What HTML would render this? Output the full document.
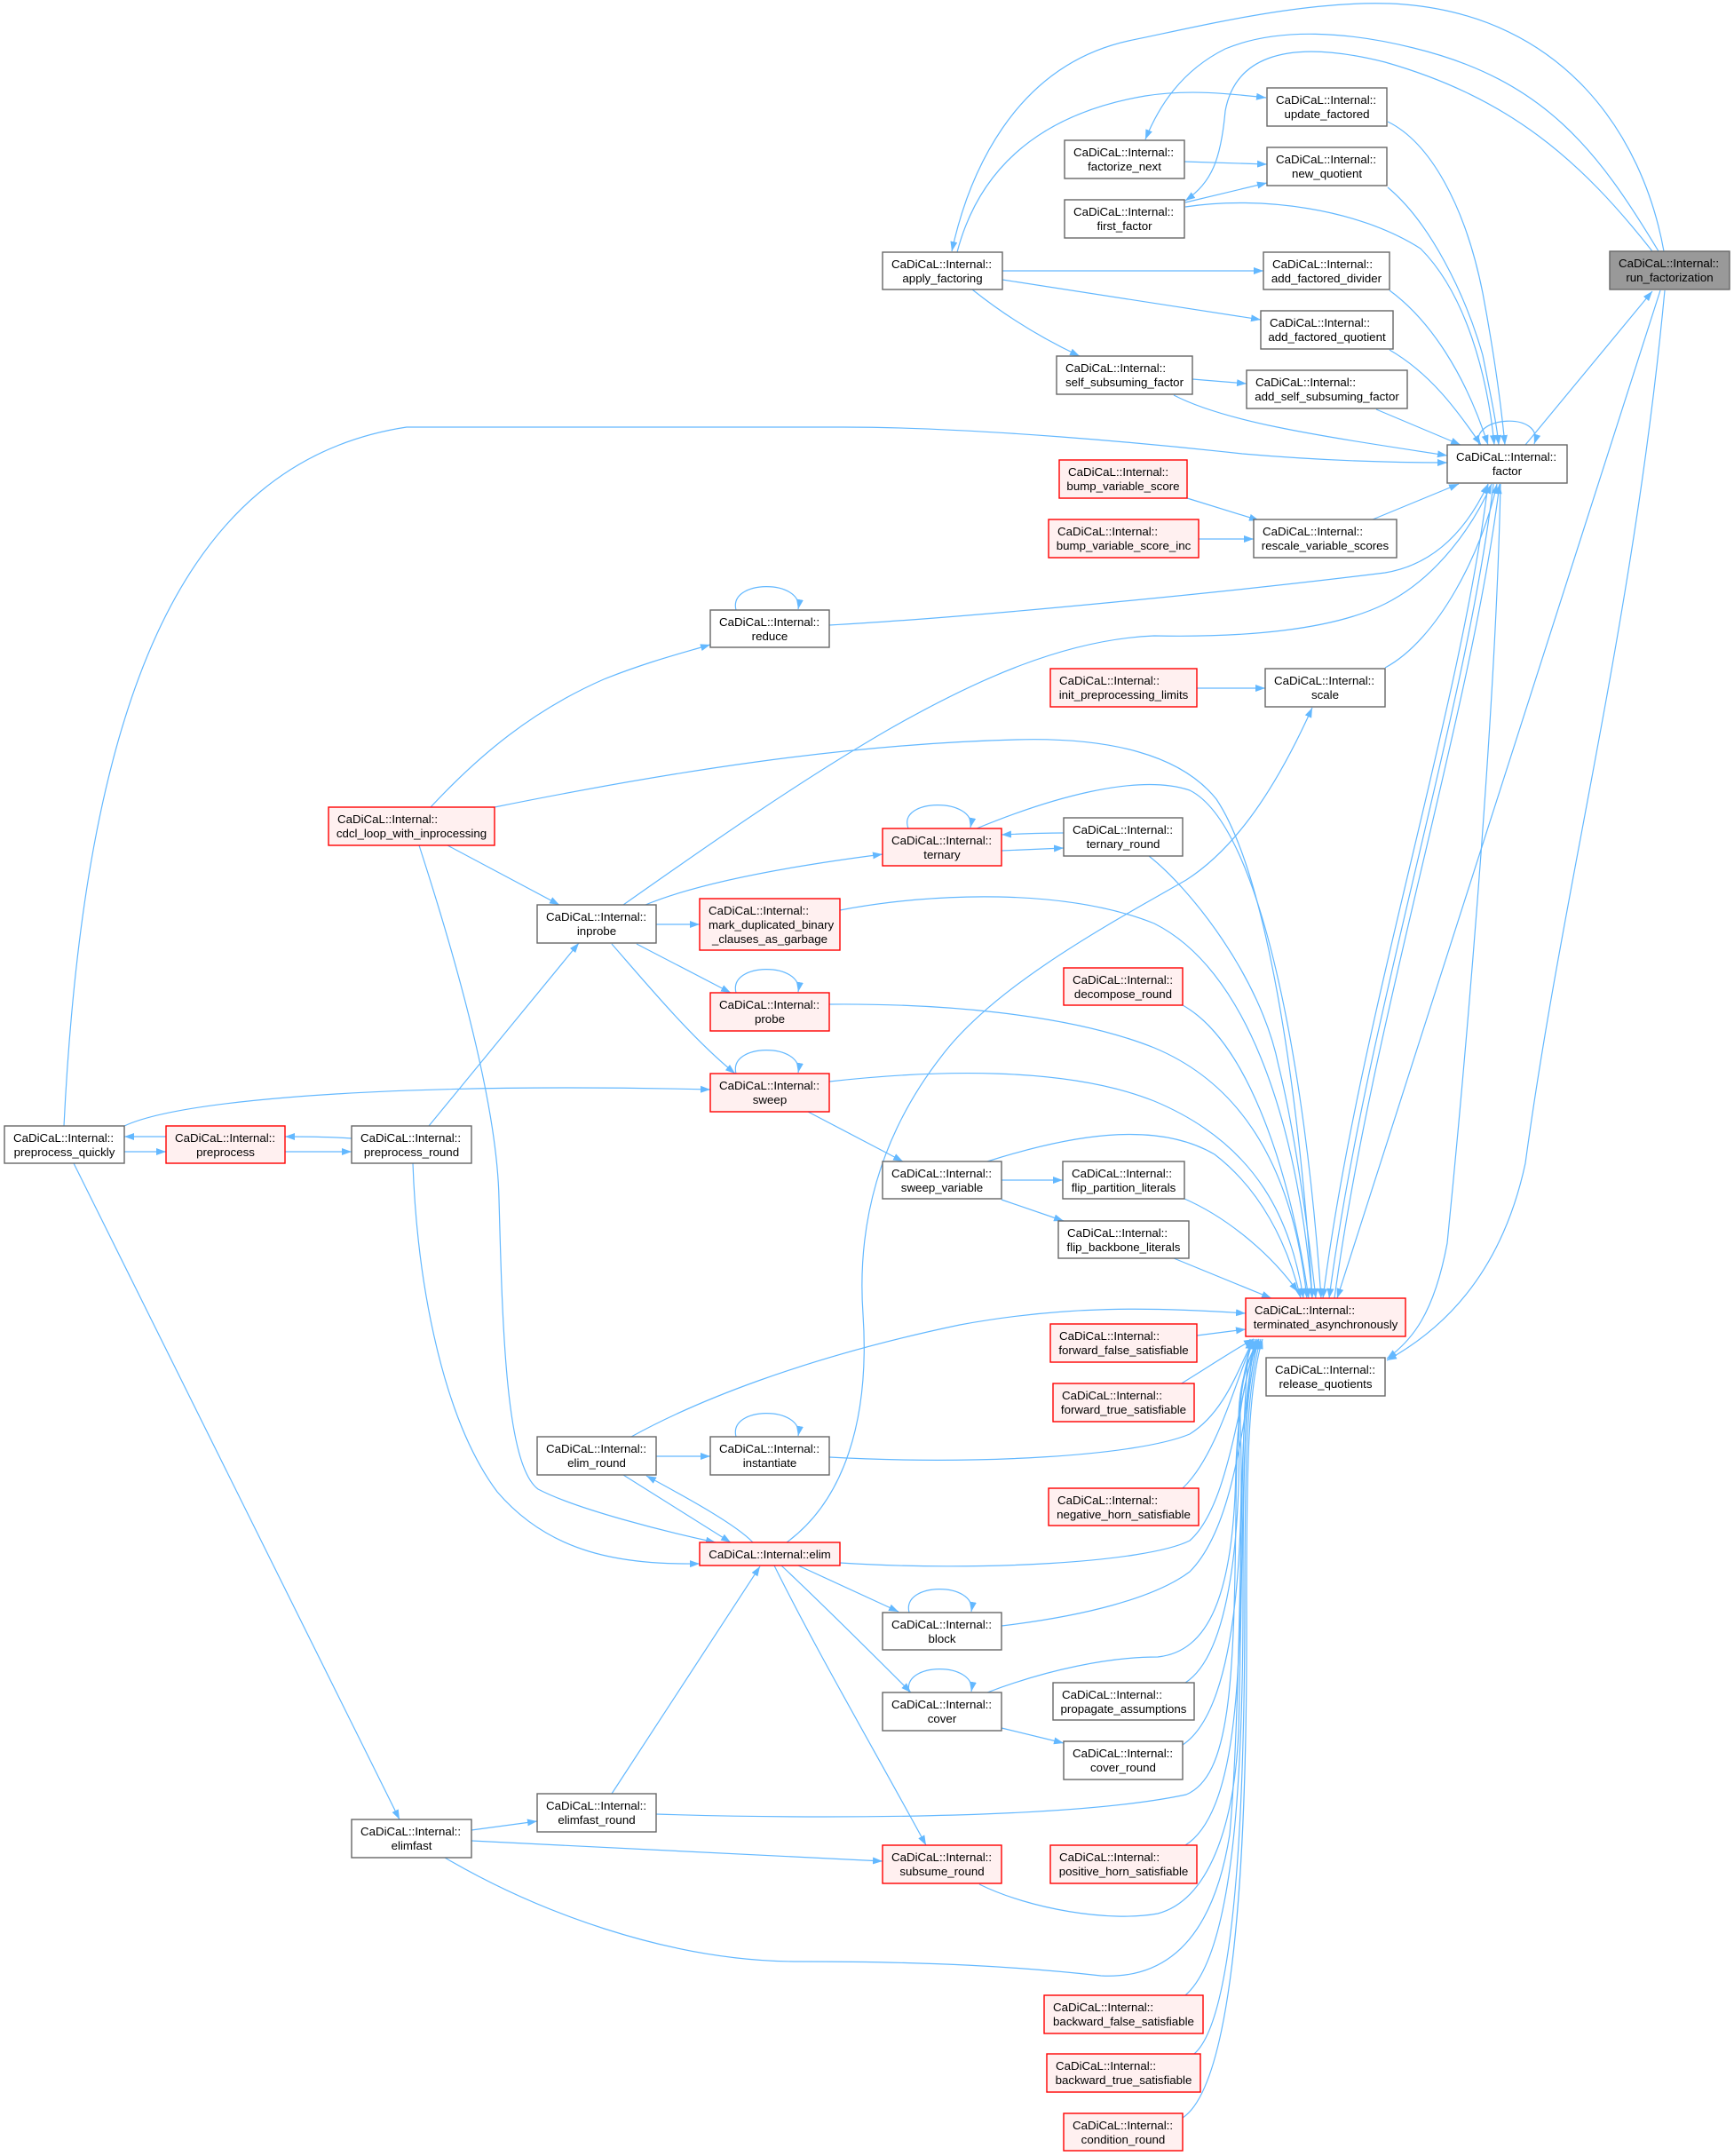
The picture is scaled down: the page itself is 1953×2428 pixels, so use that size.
<!DOCTYPE html>
<html><head><meta charset="utf-8"><style>
html,body{margin:0;padding:0;background:#fff;}
svg{display:block;}
text{font-family:"Liberation Sans",Arial,sans-serif;font-size:13.3px;fill:#000;}
.n{fill:#fff;stroke:#666;stroke-width:1.4;}
.r{fill:#fff0f0;stroke:#f00;stroke-width:1.4;}
.g{fill:#999;stroke:#666;stroke-width:1.4;}
.e{fill:none;stroke:#63b8ff;stroke-width:1.2;}
</style></head><body>
<svg width="1953" height="2428" viewBox="0 0 1953 2428" xmlns="http://www.w3.org/2000/svg">
<defs><marker id="a" viewBox="0 0 11 8" refX="11" refY="4" markerWidth="11" markerHeight="8" markerUnits="userSpaceOnUse" orient="auto"><path d="M0,0L11,4L0,8z" fill="#63b8ff"/></marker></defs>
<g class="e" marker-end="url(#a)">
<path d="M1874,283 C1850,150 1760,20 1582,5 C1480,-3 1350,30 1271,46 C1140,75 1090,200 1072,283"/>
<path d="M1078,284 C1100,200 1160,130 1290,108 C1340,100 1390,106 1426,110"/>
<path d="M1868,283 C1800,170 1740,90 1592,54 C1520,36 1440,30 1380,55 C1330,80 1305,120 1290,157"/>
<path d="M1861,283 C1780,180 1700,110 1560,70 C1440,40 1390,70 1380,125 C1375,180 1365,205 1335,226"/>
<path d="M1718,501 L1861,328"/>
<path d="M1334,182 L1427,185"/>
<path d="M1335,228 L1427,206"/>
<path d="M1129,305 L1423,305"/>
<path d="M1129,315 L1420,360"/>
<path d="M1095,326 Q1150,370 1216,401"/>
<path d="M1343,427 L1404,432"/>
<path d="M1563,137 C1610,160 1650,230 1670,330 C1685,410 1692,470 1695,501"/>
<path d="M1563,211 C1610,250 1650,330 1670,400 C1680,450 1686,480 1688,501"/>
<path d="M1335,233 C1420,220 1530,235 1600,280 C1650,330 1675,420 1683,501"/>
<path d="M1565,327 C1610,360 1650,420 1676,501"/>
<path d="M1565,394 C1610,420 1640,460 1668,501"/>
<path d="M1550,461 L1645,501"/>
<path d="M1322,445 C1380,475 1480,490 1630,513"/>
<path d="M72,1268 C95,800 200,520 458,481 L950,481 C1100,481 1300,500 1399,511 C1480,518 1560,521 1630,521"/>
<path d="M1666,501 C1655,468 1740,463 1728,500"/>
<path d="M1337,561 L1418,586"/>
<path d="M1350,607 L1412,607"/>
<path d="M1546,585 L1643,545"/>
<path d="M934,704 C1100,695 1400,665 1560,645 C1620,635 1655,590 1676,545"/>
<path d="M702,1019 C800,950 900,880 1000,822 C1100,765 1200,720 1300,716 C1400,718 1500,710 1560,680 C1620,650 1660,590 1680,545"/>
<path d="M1560,752 C1620,720 1670,620 1686,545"/>
<path d="M1348,775 L1425,775"/>
<path d="M886,1737 C950,1690 980,1600 972,1480 C965,1380 990,1280 1060,1190 C1120,1110 1250,1040 1336,991 C1400,950 1445,870 1478,797"/>
<path d="M485,909 C540,850 600,800 680,765 C730,745 770,735 800,726"/>
<path d="M557,909 C750,870 950,838 1144,833 C1250,830 1330,850 1370,900 C1430,990 1465,1250 1478,1462"/>
<path d="M504,952 L630,1019"/>
<path d="M472,952 C520,1100 560,1250 562,1350 C566,1500 570,1650 606,1677 C650,1700 750,1725 806,1737"/>
<path d="M465,1310 C470,1450 500,1600 560,1680 C620,1750 700,1762 788,1761"/>
<path d="M483,1268 L652,1062"/>
<path d="M396,1282 C370,1280 345,1280 321,1280"/>
<path d="M321,1297 L396,1297"/>
<path d="M187,1280 L140,1280"/>
<path d="M140,1297 L187,1297"/>
<path d="M140,1268 C200,1240 400,1225 640,1225 C700,1225 760,1226 800,1227"/>
<path d="M83,1310 L450,2049"/>
<path d="M727,1019 C780,997 870,978 994,962"/>
<path d="M739,1041 L788,1041"/>
<path d="M717,1063 L823,1118"/>
<path d="M689,1063 C730,1110 780,1170 828,1209"/>
<path d="M1023,933 C1010,898 1100,898 1093,932"/>
<path d="M1198,938 C1170,938 1150,939 1128,940"/>
<path d="M1128,958 L1198,955"/>
<path d="M1100,933 C1180,900 1280,870 1340,890 C1420,930 1470,1200 1488,1462"/>
<path d="M1294,964 C1340,1000 1420,1100 1440,1200 C1460,1280 1475,1400 1482,1462"/>
<path d="M946,1025 C1050,1005 1200,1000 1300,1040 C1400,1090 1460,1250 1478,1462"/>
<path d="M1332,1132 C1400,1170 1450,1300 1474,1462"/>
<path d="M934,1131 C1050,1130 1200,1140 1300,1180 C1420,1230 1460,1350 1472,1462"/>
<path d="M829,1118 C820,1083 905,1083 899,1117"/>
<path d="M829,1209 C820,1174 905,1174 899,1208"/>
<path d="M829,687 C820,652 905,652 899,686"/>
<path d="M934,1218 C1050,1205 1200,1200 1300,1240 C1420,1290 1455,1380 1468,1462"/>
<path d="M910,1252 L1017,1308"/>
<path d="M1112,1308 C1200,1280 1300,1260 1368,1300 C1420,1340 1450,1400 1465,1462"/>
<path d="M1128,1329 L1197,1329"/>
<path d="M1128,1351 L1198,1375"/>
<path d="M1334,1350 C1380,1370 1430,1410 1462,1455"/>
<path d="M1322,1417 L1432,1462"/>
<path d="M711,1618 C780,1580 900,1530 1081,1492 C1200,1470 1300,1472 1403,1479"/>
<path d="M1348,1504 L1403,1497"/>
<path d="M1329,1559 C1360,1540 1390,1520 1412,1508"/>
<path d="M934,1641 C1100,1650 1280,1640 1340,1615 C1380,1590 1395,1540 1412,1508"/>
<path d="M739,1640 L800,1640"/>
<path d="M829,1618 C820,1583 905,1583 899,1617"/>
<path d="M702,1661 L823,1737"/>
<path d="M848,1737 C830,1718 780,1690 728,1662"/>
<path d="M1332,1676 C1370,1640 1390,1560 1412,1508"/>
<path d="M946,1760 C1100,1770 1290,1760 1340,1735 C1380,1700 1392,1600 1414,1508"/>
<path d="M899,1763 L1012,1815"/>
<path d="M880,1763 C930,1810 980,1860 1026,1906"/>
<path d="M872,1763 C920,1860 990,1980 1043,2078"/>
<path d="M1024,1816 C1015,1781 1100,1781 1094,1815"/>
<path d="M1128,1831 C1220,1820 1300,1800 1340,1770 C1390,1720 1400,1600 1416,1508"/>
<path d="M1024,1906 C1015,1871 1100,1871 1094,1905"/>
<path d="M1112,1906 C1180,1880 1250,1866 1304,1866 C1360,1860 1390,1800 1392,1650 C1395,1580 1405,1540 1418,1508"/>
<path d="M1128,1946 L1198,1963"/>
<path d="M1335,1895 C1390,1860 1398,1700 1395,1600 C1395,1560 1405,1530 1418,1508"/>
<path d="M1332,1965 C1400,1920 1400,1700 1397,1600 C1396,1560 1405,1530 1418,1508"/>
<path d="M689,2020 L856,1764"/>
<path d="M531,2061 L605,2051"/>
<path d="M531,2073 L994,2096"/>
<path d="M501,2092 C600,2150 750,2209 900,2209 C1050,2209 1150,2215 1240,2225 C1330,2230 1370,2160 1385,2066 C1400,1900 1395,1600 1408,1508"/>
<path d="M739,2043 C900,2048 1200,2050 1336,2021 C1385,2000 1390,1900 1392,1700 C1393,1580 1400,1540 1412,1508"/>
<path d="M1103,2122 C1160,2150 1250,2165 1304,2155 C1360,2140 1390,2060 1395,1950 C1400,1750 1398,1580 1414,1508"/>
<path d="M1335,2078 C1380,2050 1395,1950 1397,1800 C1398,1650 1400,1560 1416,1508"/>
<path d="M1335,2247 C1390,2200 1400,2000 1400,1800 C1400,1650 1402,1560 1418,1508"/>
<path d="M1345,2313 C1395,2270 1402,2000 1402,1800 C1402,1650 1404,1560 1420,1508"/>
<path d="M1332,2385 C1400,2340 1405,2000 1404,1800 C1404,1650 1406,1560 1422,1508"/>
<path d="M1676,545 C1645,800 1530,1150 1490,1462"/>
<path d="M1682,545 C1652,800 1538,1150 1497,1462"/>
<path d="M1503,1462 C1545,1150 1658,800 1689,545"/>
<path d="M1870,327 L1506,1462"/>
<path d="M1875,327 C1840,700 1760,1000 1718,1310 C1690,1440 1620,1500 1562,1532"/>
<path d="M1690,545 C1685,800 1650,1200 1630,1400 C1615,1480 1590,1510 1562,1530"/>
</g>
<g>
<rect class="g" x="1813" y="283" width="135" height="43"/><text x="1823" y="301">CaDiCaL::Internal::</text><text x="1880.5" y="317" text-anchor="middle">run_factorization</text>
<rect class="n" x="1427" y="99" width="135" height="43"/><text x="1437" y="117">CaDiCaL::Internal::</text><text x="1494.5" y="133" text-anchor="middle">update_factored</text>
<rect class="n" x="1199" y="158" width="135" height="43"/><text x="1209" y="176">CaDiCaL::Internal::</text><text x="1266.5" y="192" text-anchor="middle">factorize_next</text>
<rect class="n" x="1427" y="166" width="135" height="43"/><text x="1437" y="184">CaDiCaL::Internal::</text><text x="1494.5" y="200" text-anchor="middle">new_quotient</text>
<rect class="n" x="1199" y="225" width="135" height="43"/><text x="1209" y="243">CaDiCaL::Internal::</text><text x="1266.5" y="259" text-anchor="middle">first_factor</text>
<rect class="n" x="994" y="284" width="135" height="42"/><text x="1004" y="302">CaDiCaL::Internal::</text><text x="1061.5" y="318" text-anchor="middle">apply_factoring</text>
<rect class="n" x="1423" y="284" width="142" height="42"/><text x="1433" y="302">CaDiCaL::Internal::</text><text x="1494" y="318" text-anchor="middle">add_factored_divider</text>
<rect class="n" x="1420" y="350" width="149" height="43"/><text x="1430" y="368">CaDiCaL::Internal::</text><text x="1494.5" y="384" text-anchor="middle">add_factored_quotient</text>
<rect class="n" x="1190" y="401" width="153" height="43"/><text x="1200" y="419">CaDiCaL::Internal::</text><text x="1266.5" y="435" text-anchor="middle">self_subsuming_factor</text>
<rect class="n" x="1404" y="417" width="181" height="43"/><text x="1414" y="435">CaDiCaL::Internal::</text><text x="1494.5" y="451" text-anchor="middle">add_self_subsuming_factor</text>
<rect class="n" x="1630" y="501" width="135" height="43"/><text x="1640" y="519">CaDiCaL::Internal::</text><text x="1697.5" y="535" text-anchor="middle">factor</text>
<rect class="r" x="1193" y="518" width="144" height="43"/><text x="1203" y="536">CaDiCaL::Internal::</text><text x="1265" y="552" text-anchor="middle">bump_variable_score</text>
<rect class="r" x="1181" y="585" width="169" height="43"/><text x="1191" y="603">CaDiCaL::Internal::</text><text x="1265.5" y="619" text-anchor="middle">bump_variable_score_inc</text>
<rect class="n" x="1412" y="585" width="161" height="43"/><text x="1422" y="603">CaDiCaL::Internal::</text><text x="1492.5" y="619" text-anchor="middle">rescale_variable_scores</text>
<rect class="n" x="800" y="687" width="134" height="42"/><text x="810" y="705">CaDiCaL::Internal::</text><text x="867" y="721" text-anchor="middle">reduce</text>
<rect class="r" x="1183" y="753" width="165" height="43"/><text x="1193" y="771">CaDiCaL::Internal::</text><text x="1265.5" y="787" text-anchor="middle">init_preprocessing_limits</text>
<rect class="n" x="1425" y="753" width="135" height="43"/><text x="1435" y="771">CaDiCaL::Internal::</text><text x="1492.5" y="787" text-anchor="middle">scale</text>
<rect class="r" x="370" y="909" width="187" height="43"/><text x="380" y="927">CaDiCaL::Internal::</text><text x="463.5" y="943" text-anchor="middle">cdcl_loop_with_inprocessing</text>
<rect class="n" x="1198" y="921" width="134" height="43"/><text x="1208" y="939">CaDiCaL::Internal::</text><text x="1265" y="955" text-anchor="middle">ternary_round</text>
<rect class="r" x="994" y="933" width="134" height="42"/><text x="1004" y="951">CaDiCaL::Internal::</text><text x="1061" y="967" text-anchor="middle">ternary</text>
<rect class="r" x="788" y="1012" width="158" height="58"/><text x="798" y="1030">CaDiCaL::Internal::</text><text x="798" y="1046">mark_duplicated_binary</text><text x="867" y="1062" text-anchor="middle">_clauses_as_garbage</text>
<rect class="n" x="605" y="1019" width="134" height="43"/><text x="615" y="1037">CaDiCaL::Internal::</text><text x="672" y="1053" text-anchor="middle">inprobe</text>
<rect class="r" x="1198" y="1090" width="134" height="42"/><text x="1208" y="1108">CaDiCaL::Internal::</text><text x="1265" y="1124" text-anchor="middle">decompose_round</text>
<rect class="r" x="800" y="1118" width="134" height="43"/><text x="810" y="1136">CaDiCaL::Internal::</text><text x="867" y="1152" text-anchor="middle">probe</text>
<rect class="r" x="800" y="1209" width="134" height="43"/><text x="810" y="1227">CaDiCaL::Internal::</text><text x="867" y="1243" text-anchor="middle">sweep</text>
<rect class="n" x="5" y="1268" width="135" height="42"/><text x="15" y="1286">CaDiCaL::Internal::</text><text x="72.5" y="1302" text-anchor="middle">preprocess_quickly</text>
<rect class="r" x="187" y="1268" width="134" height="42"/><text x="197" y="1286">CaDiCaL::Internal::</text><text x="254" y="1302" text-anchor="middle">preprocess</text>
<rect class="n" x="396" y="1268" width="135" height="42"/><text x="406" y="1286">CaDiCaL::Internal::</text><text x="463.5" y="1302" text-anchor="middle">preprocess_round</text>
<rect class="n" x="994" y="1308" width="134" height="42"/><text x="1004" y="1326">CaDiCaL::Internal::</text><text x="1061" y="1342" text-anchor="middle">sweep_variable</text>
<rect class="n" x="1197" y="1308" width="137" height="42"/><text x="1207" y="1326">CaDiCaL::Internal::</text><text x="1265.5" y="1342" text-anchor="middle">flip_partition_literals</text>
<rect class="n" x="1192" y="1375" width="147" height="42"/><text x="1202" y="1393">CaDiCaL::Internal::</text><text x="1265.5" y="1409" text-anchor="middle">flip_backbone_literals</text>
<rect class="r" x="1403" y="1462" width="180" height="43"/><text x="1413" y="1480">CaDiCaL::Internal::</text><text x="1493" y="1496" text-anchor="middle">terminated_asynchronously</text>
<rect class="r" x="1183" y="1491" width="165" height="43"/><text x="1193" y="1509">CaDiCaL::Internal::</text><text x="1265.5" y="1525" text-anchor="middle">forward_false_satisfiable</text>
<rect class="n" x="1426" y="1529" width="134" height="43"/><text x="1436" y="1547">CaDiCaL::Internal::</text><text x="1493" y="1563" text-anchor="middle">release_quotients</text>
<rect class="r" x="1186" y="1558" width="159" height="43"/><text x="1196" y="1576">CaDiCaL::Internal::</text><text x="1265.5" y="1592" text-anchor="middle">forward_true_satisfiable</text>
<rect class="n" x="605" y="1618" width="134" height="43"/><text x="615" y="1636">CaDiCaL::Internal::</text><text x="672" y="1652" text-anchor="middle">elim_round</text>
<rect class="n" x="800" y="1618" width="134" height="43"/><text x="810" y="1636">CaDiCaL::Internal::</text><text x="867" y="1652" text-anchor="middle">instantiate</text>
<rect class="r" x="1181" y="1676" width="169" height="42"/><text x="1191" y="1694">CaDiCaL::Internal::</text><text x="1265.5" y="1710" text-anchor="middle">negative_horn_satisfiable</text>
<rect class="r" x="788" y="1737" width="158" height="26"/><text x="867" y="1755" text-anchor="middle">CaDiCaL::Internal::elim</text>
<rect class="n" x="994" y="1816" width="134" height="42"/><text x="1004" y="1834">CaDiCaL::Internal::</text><text x="1061" y="1850" text-anchor="middle">block</text>
<rect class="n" x="1186" y="1895" width="159" height="42"/><text x="1196" y="1913">CaDiCaL::Internal::</text><text x="1265.5" y="1929" text-anchor="middle">propagate_assumptions</text>
<rect class="n" x="994" y="1906" width="134" height="43"/><text x="1004" y="1924">CaDiCaL::Internal::</text><text x="1061" y="1940" text-anchor="middle">cover</text>
<rect class="n" x="1198" y="1961" width="134" height="43"/><text x="1208" y="1979">CaDiCaL::Internal::</text><text x="1265" y="1995" text-anchor="middle">cover_round</text>
<rect class="n" x="605" y="2020" width="134" height="43"/><text x="615" y="2038">CaDiCaL::Internal::</text><text x="672" y="2054" text-anchor="middle">elimfast_round</text>
<rect class="n" x="396" y="2049" width="135" height="43"/><text x="406" y="2067">CaDiCaL::Internal::</text><text x="463.5" y="2083" text-anchor="middle">elimfast</text>
<rect class="r" x="994" y="2078" width="134" height="43"/><text x="1004" y="2096">CaDiCaL::Internal::</text><text x="1061" y="2112" text-anchor="middle">subsume_round</text>
<rect class="r" x="1183" y="2078" width="165" height="43"/><text x="1193" y="2096">CaDiCaL::Internal::</text><text x="1265.5" y="2112" text-anchor="middle">positive_horn_satisfiable</text>
<rect class="r" x="1176" y="2247" width="179" height="43"/><text x="1186" y="2265">CaDiCaL::Internal::</text><text x="1265.5" y="2281" text-anchor="middle">backward_false_satisfiable</text>
<rect class="r" x="1179" y="2313" width="173" height="43"/><text x="1189" y="2331">CaDiCaL::Internal::</text><text x="1265.5" y="2347" text-anchor="middle">backward_true_satisfiable</text>
<rect class="r" x="1198" y="2380" width="134" height="42"/><text x="1208" y="2398">CaDiCaL::Internal::</text><text x="1265" y="2414" text-anchor="middle">condition_round</text>
</g>
</svg>
</body></html>
